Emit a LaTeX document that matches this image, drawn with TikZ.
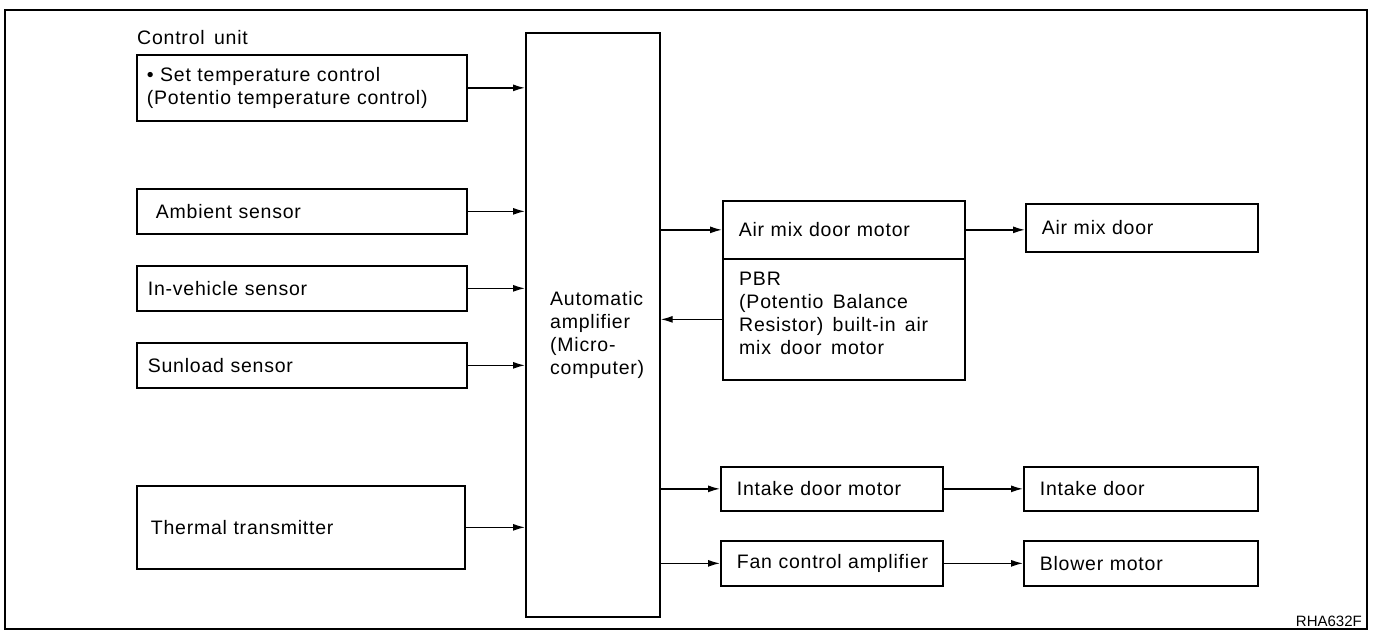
\documentclass[tikz,border=0pt]{standalone}
\usepackage{fontspec}
\setmainfont{Liberation Sans}[LetterSpace=4, WordSpace=1.5]
\newfontfamily\tagfont{Liberation Sans}
\usetikzlibrary{arrows.meta}
\begin{document}
\begin{tikzpicture}[x=1pt,y=-1pt,
  lbl/.style={font=\fontsize{19.5}{23}\selectfont},
  box/.style={lbl, draw, line width=1.7pt, anchor=north west, inner ysep=0pt, align=left},
  txt/.style={lbl, inner sep=0pt, anchor=west, align=left},
  flow/.style={line width=1.4pt, -{Latex[length=12pt,width=7pt]}}
]
\useasboundingbox (0,0) rectangle (1378,632);
% sheet frame
\draw[line width=2pt] (5,10) rectangle (1367,629);

% inputs
\node[txt] (cu) at (137,38) {Control unit};
\node[box, minimum width=330pt, minimum height=66pt, text width=310pt, inner xsep=10pt] (set) at (136,54)
  {• Set temperature control\\ (Potentio temperature control)};
\node[box, minimum width=330pt, minimum height=45pt, text width=292pt, inner xsep=19pt] (amb) at (136,188) {Ambient sensor};
\node[box, minimum width=330pt, minimum height=45pt, text width=308pt, inner xsep=11pt] (inv) at (136,265) {In-vehicle sensor};
\node[box, minimum width=330pt, minimum height=45pt, text width=308pt, inner xsep=11pt] (sun) at (136,342) {Sunload sensor};
\node[box, minimum width=328pt, minimum height=83pt, text width=300pt, inner xsep=14pt] (thm) at (136,485) {Thermal transmitter};

% controller
\node[box, minimum width=134pt, minimum height=584pt, inner sep=0pt] (amp) at (525,32) {};
\node[txt] (amptext) at (550,335) {Automatic\\amplifier\\(Micro-\\computer)};

% outputs
\node[box, minimum width=242pt, minimum height=58pt, text width=210pt, inner xsep=16pt] (airmotor) at (722,200) {Air mix door motor};
\node[box, minimum width=242pt, minimum height=121pt, inner sep=0pt] (pbr) at (722,258) {};
\node[txt] (pbrtext) at (739,313) {PBR\\(Potentio Balance\\Resistor) built-in air\\mix door motor};
\node[box, minimum width=232pt, minimum height=48pt, text width=200pt, inner xsep=16pt] (airdoor) at (1025,203) {Air mix door};
\node[box, minimum width=222pt, minimum height=44pt, text width=190pt, inner xsep=16pt] (intmotor) at (720,466) {Intake door motor};
\node[box, minimum width=234pt, minimum height=44pt, text width=202pt, inner xsep=16pt] (intdoor) at (1023,466) {Intake door};
\node[box, minimum width=222pt, minimum height=45pt, text width=190pt, inner xsep=16pt] (fan) at (720,540) {Fan control amplifier};
\node[box, minimum width=234pt, minimum height=45pt, text width=202pt, inner xsep=16pt] (blower) at (1023,540) {Blower motor};

\node[inner sep=0pt, anchor=south east, font=\tagfont\fontsize{15}{15}\selectfont] (tag) at (1362,627) {RHA632F};

% signal lines
\draw[flow] (set.east) -- (set.east -| amp.west);
\draw[flow] (amb.east) -- (amb.east -| amp.west);
\draw[flow] (inv.east) -- (inv.east -| amp.west);
\draw[flow] (sun.east) -- (sun.east -| amp.west);
\draw[flow] (thm.east) -- (thm.east -| amp.west);
\draw[flow] (amp.east |- airmotor.west) -- (airmotor.west);
\draw[flow] (airmotor.east) -- (airmotor.east -| airdoor.west);
\draw[flow] (pbr.west) -- (pbr.west -| amp.east);
\draw[flow] (amp.east |- intmotor.west) -- (intmotor.west);
\draw[flow] (intmotor.east) -- (intmotor.east -| intdoor.west);
\draw[flow] (amp.east |- fan.west) -- (fan.west);
\draw[flow] (fan.east) -- (fan.east -| blower.west);
\end{tikzpicture}
\end{document}
